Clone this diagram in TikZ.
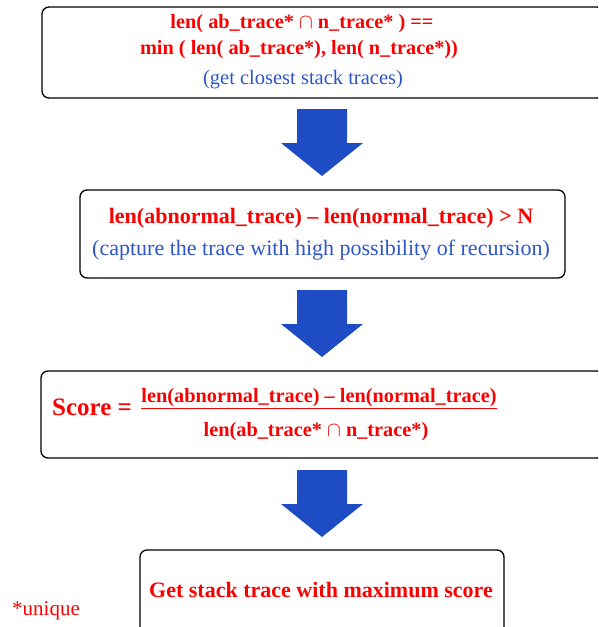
\documentclass[tikz,border=0pt]{standalone}
\usepackage{fontspec}
\setmainfont{Liberation Serif}
\usetikzlibrary{positioning}
\definecolor{trred}{RGB}{250,0,0}
\definecolor{trblue}{RGB}{45,85,200}
\definecolor{arrowblue}{RGB}{30,76,196}
% big blue block arrow pointing down, top centre at #1
\newcommand\bigdownarrow[1]{%
  \fill[arrowblue] (#1) ++(-25,0) -- ++(50,0) -- ++(0,34) -- ++(16,0)
    -- ++(-41,33) -- ++(-41,-33) -- ++(16,0) -- cycle;}

\begin{document}
\begin{tikzpicture}[x=1pt,y=-1pt,
    box/.style={draw,rounded corners=7pt,line width=1.3pt,inner sep=0pt},
    redtxt/.style={text=trred,font=\fontsize{22}{24}\selectfont\bfseries,inner sep=0pt},
    bluetxt/.style={text=trblue,font=\fontsize{22}{24}\selectfont,inner sep=0pt},
    smallred/.style={redtxt,font=\fontsize{20.3}{22}\selectfont\bfseries}]
    \useasboundingbox (0,0) rectangle (598,627);
    \clip (0,0) rectangle (598,627);
    % boxes
    \node[box,minimum width=562pt,minimum height=91pt] (b1) at (323,52.5) {};
    \node[box,minimum width=485pt,minimum height=88pt] (b2) at (322.5,234) {};
    \node[box,minimum width=563pt,minimum height=87pt] (b3) at (322.5,414.5) {};
    \node[box,minimum width=364pt,minimum height=90pt] (b4) at (322,595) {};
    % texts
    \node[smallred] (t1a) at (302,24) {len( ab\_trace* $\cap$ n\_trace* ) ==};
    \node[smallred] (t1b) at (299,50) {min ( len( ab\_trace*), len( n\_trace*))};
    \node[bluetxt,font=\fontsize{20.5}{22}\selectfont] (t1c) at (303,80) {(get closest stack traces)};
    \node[redtxt] (t2a) at (321,218) {len(abnormal\_trace) -- len(normal\_trace) > N};
    \node[bluetxt] (t2b) at (321,250) {(capture the trace with high possibility of recursion)};
    \node[redtxt,font=\fontsize{25}{27}\selectfont\bfseries] (score) at (92,407) {Score =};
    \node[smallred] (num) at (319,398) {len(abnormal\_trace) -- len(normal\_trace)};
    \node[smallred] (den) at (316,432) {len(ab\_trace* $\cap$ n\_trace*)};
    \draw[trred,line width=1.2pt] ([yshift=-1pt]num.south west) -- ([yshift=-1pt]num.south east);
    \node[redtxt] (t4) at (321,590) {Get stack trace with maximum score};
    \node[text=trred,font=\fontsize{21}{23}\selectfont,inner sep=0pt] (note) at (46,611) {*unique};
    % arrows
    \coordinate (a1) at (322,109);
    \coordinate (a2) at (322,290);
    \coordinate (a3) at (322,470);
    \bigdownarrow{a1}
    \bigdownarrow{a2}
    \bigdownarrow{a3}
\end{tikzpicture}
\end{document}
